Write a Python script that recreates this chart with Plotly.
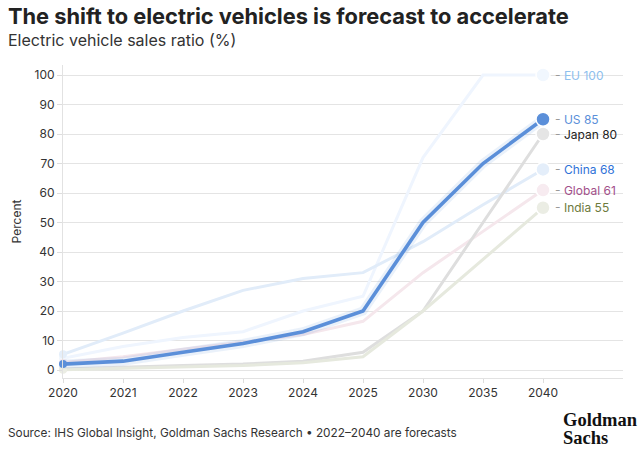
import plotly.graph_objects as go

years = ["2020", "2021", "2022", "2023", "2024", "2025", "2030", "2035", "2040"]
eu = [4, 8, 11, 13, 20, 25, 72, 100, 100]
china = [5.3, 12.5, 20, 27, 31, 33, 43.5, 56, 68]
globl = [2.5, 4.5, 7, 9.5, 12, 16.5, 33, 47, 61]
japan = [0.3, 1, 1.5, 2, 3, 6, 20, 50, 80]
india = [0.1, 0.5, 1, 1.5, 2.5, 4.5, 20, 37.5, 55]
us = [2, 3, 6, 9, 13, 20, 50, 70, 85]

series_names = ["EU", "China", "Global", "Japan", "India", "US"]
series_vals = [eu, china, globl, japan, india, us]
line_colors = ["#eff5fe", "#e1ecf9", "#f5e7ec", "#dedede", "#e6e9de", "#5b8fd9"]
dot_colors = ["#f1f7fe", "#e4eefa", "#f7ebf0", "#e5e5e5", "#ebede4", "#5b8fd9"]
label_colors = ["#8ec0ee", "#2f72d8", "#a2508a", "#222222", "#6d7a3c", "#5b8fd9"]

xs = list(range(len(years)))
FONT = "Inter"

fig = go.Figure()

for name, vals, lc, dc in zip(series_names, series_vals, line_colors, dot_colors):
    if name == "US":
        fig.add_trace(go.Scatter(x=xs, y=vals, mode="lines",
                                 line=dict(color="rgba(91,143,217,0.13)", width=9),
                                 hoverinfo="skip", cliponaxis=False, showlegend=False))
        w = 3.6
    else:
        w = 3
    fig.add_trace(go.Scatter(x=xs, y=vals, mode="lines",
                             line=dict(color=lc, width=w),
                             cliponaxis=False, showlegend=False, name=name))
    fig.add_trace(go.Scatter(x=[xs[0]], y=[vals[0]], mode="markers",
                             marker=dict(color=dc if name != "US" else lc, size=8),
                             cliponaxis=False, showlegend=False, hoverinfo="skip"))
    fig.add_trace(go.Scatter(x=[xs[-1]], y=[vals[-1]], mode="markers",
                             marker=dict(color=dc, size=14, line=dict(color="white", width=1.5)),
                             cliponaxis=False, showlegend=False, hoverinfo="skip"))

annotations = []
for name, vals, col in zip(series_names, series_vals, label_colors):
    v = vals[-1]
    annotations.append(dict(
        x=xs[-1], y=v, xref="x", yref="y", xanchor="left", yanchor="middle",
        xshift=10, showarrow=False,
        text="<span style='color:#999999'>- </span>" + f"{name} {v:g}",
        font=dict(family=FONT, size=12, color=col)))

annotations += [
    dict(x=6, y=16, xref="paper", yref="paper", xanchor="left", yanchor="middle",
         text="<b>The shift to electric vehicles is forecast to accelerate</b>",
         showarrow=False, font=dict(family=FONT, size=21.8, color="#222222")),
    dict(x=6, y=40, xref="paper", yref="paper", xanchor="left", yanchor="middle",
         text="Electric vehicle sales ratio (%)",
         showarrow=False, font=dict(family=FONT, size=16, color="#333333")),
    dict(x=6, y=433, xref="paper", yref="paper", xanchor="left", yanchor="middle",
         text="Source: IHS Global Insight, Goldman Sachs Research • 2022–2040 are forecasts",
         showarrow=False, font=dict(family=FONT, size=11.8, color="#333333")),
    dict(x=561, y=420, xref="paper", yref="paper", xanchor="left", yanchor="middle",
         text="<b>Goldman</b>", showarrow=False,
         font=dict(family="Liberation Serif", size=18.5, color="#111111")),
    dict(x=561, y=438, xref="paper", yref="paper", xanchor="left", yanchor="middle",
         text="<b>Sachs</b>", showarrow=False,
         font=dict(family="Liberation Serif", size=18.5, color="#111111")),
]

W, H = 640, 449
ML, MR, MT, MB = 63, 17, 65, 71
pw, ph = W - ML - MR, H - MT - MB
for a in annotations:
    if a["xref"] == "paper":
        a["x"] = (a["x"] - ML) / pw
        a["y"] = 1 - (a["y"] - MT) / ph

fig.update_layout(
    width=W, height=H,
    margin=dict(l=ML, r=MR, t=MT, b=MB),
    plot_bgcolor="white", paper_bgcolor="white",
    annotations=annotations,
    xaxis=dict(range=[0, 9.333], tickvals=xs, ticktext=years,
               showgrid=False, zeroline=False,
               showline=True, linecolor="#e2e2e2", linewidth=1,
               ticks="outside", ticklen=4, tickcolor="#dddddd",
               tickfont=dict(family=FONT, size=12, color="#333333")),
    yaxis=dict(range=[-2.71, 103.4], tickvals=list(range(0, 101, 10)),
               showgrid=True, gridcolor="#e4e4e4", gridwidth=1, zeroline=False,
               showline=True, linecolor="#e2e2e2", linewidth=1,
               ticks="outside", ticklen=5, tickcolor="#dddddd",
               tickfont=dict(family=FONT, size=12, color="#333333"),
               title=dict(text="Percent", font=dict(family=FONT, size=12, color="#333333"),
                          standoff=10)),
)

fig.write_html("out.html", config={"displayModeBar": False},
               post_script="document.body.style.margin='0';")
